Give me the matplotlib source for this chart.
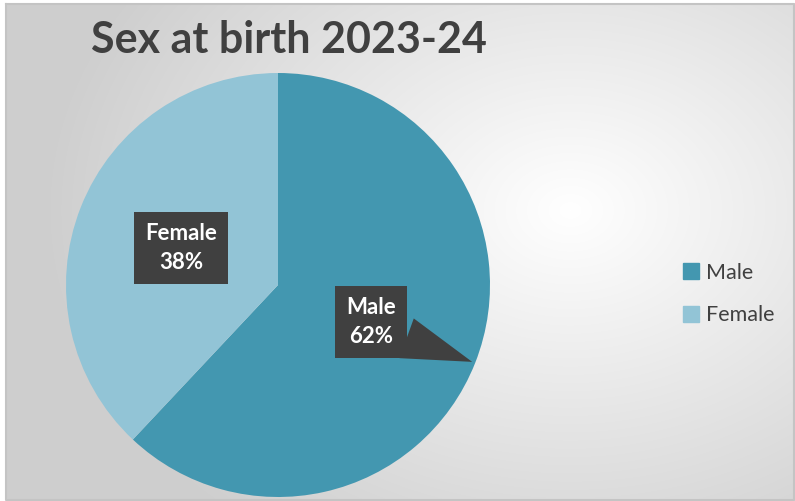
import numpy as np
import matplotlib
matplotlib.use("Agg")
import matplotlib.pyplot as plt

# ---- data ----
categories = ["Male", "Female"]
values = [62, 38]
colors = ["#4397B0", "#92C4D6"]
title = "Sex at birth 2023-24"

W, H = 795, 501
fig = plt.figure(figsize=(W / 100, H / 100), dpi=100)

# background radial gradient
bg = fig.add_axes([0, 0, 1, 1])
yy, xx = np.mgrid[0:H, 0:W]
cx, cy = 570, 210
d = np.sqrt(((xx - cx) / 580.0) ** 2 + ((yy - cy) / 440.0) ** 2)
g = np.clip(1.0 - 0.21 * d, 0.81, 1.0)
img = np.dstack([g, g, g])
bg.imshow(img, extent=[0, W, H, 0], aspect="auto")
bg.set_xlim(0, W)
bg.set_ylim(H, 0)
bg.axis("off")
# white outer margin and thin frame
bg.add_patch(plt.Rectangle((0, 0), 6, H, color="white", lw=0))
bg.add_patch(plt.Rectangle((0, 0), W, 3, color="white", lw=0))
bg.plot([6, W - 1, W - 1, 6, 6], [3.5, 3.5, H - 1, H - 1, 3.5], color="#c4c4c4", lw=1.5)

# pie axes
cxp, cyp, R = 278, 285, 212
ax = fig.add_axes([(cxp - R) / W, (H - cyp - R) / H, 2 * R / W, 2 * R / H])
wedges, _ = ax.pie(values, colors=colors, startangle=90, counterclock=False,
                   radius=1.0, center=(0, 0), frame=False)
ax.set_xlim(-1, 1)
ax.set_ylim(-1, 1)
ax.set_aspect("equal")
ax.axis("off")

box = dict(boxstyle="square,pad=0.5", fc="#404040", ec="none")
total = sum(values)
start = 90.0
for cat, v in zip(categories, values):
    mid = start - v / total * 360 / 2
    start -= v / total * 360
    th = np.deg2rad(mid)
    lx, ly = 0.47 * np.cos(th), 0.47 * np.sin(th)
    txt = f"{cat}\n{v}%"
    kw = dict(ha="center", va="center", fontsize=16, fontweight="bold",
              color="white", family="Lato", linespacing=1.45, bbox=box)
    if cat == "Male":
        tip = (0.985 * np.cos(th), 0.985 * np.sin(th))
        ax.annotate(txt, xy=tip, xytext=(lx, ly),
                    arrowprops=dict(arrowstyle="wedge,tail_width=1.9,shrink_factor=0.5",
                                    fc="#404040", ec="none", relpos=(0.85, 0.3),
                                    shrinkA=0, shrinkB=0), **kw)
    else:
        ax.text(lx - 0.02, ly, txt, **kw)

# title
fig.text(91 / W, 1 - 40 / H, title, ha="left", va="center", fontsize=31,
         fontweight="bold", color="#404040", family="Lato")

# legend
handles = [plt.Line2D([], [], marker="s", ls="", markersize=11, color=c) for c in colors]
leg = fig.legend(handles, categories, loc="center left",
                 bbox_to_anchor=(659 / W, 1 - 294 / H), frameon=False,
                 prop=dict(family="Lato", size=15.5), labelspacing=1.05,
                 handletextpad=0.1, handlelength=1.2)
for t in leg.get_texts():
    t.set_color("#404040")

fig.savefig("out.png", dpi=100)
